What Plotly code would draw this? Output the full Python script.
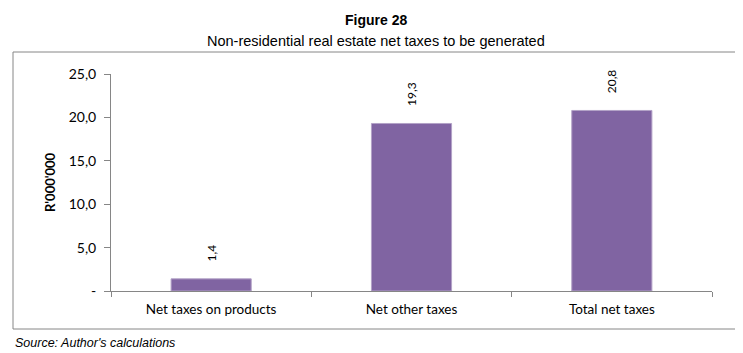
import plotly.graph_objects as go

categories = ["Net taxes on products", "Net other taxes", "Total net taxes"]
values = [1.4, 19.3, 20.8]
value_labels = ["1,4", "19,3", "20,8"]
tick_vals = [0, 5, 10, 15, 20, 25]
tick_text = ["-", "5,0", "10,0", "15,0", "20,0", "25,0"]

BAR = "#8064A2"
AXIS = "#868686"
FONT = "Lato, Calibri, sans-serif"
TFONT = "Liberation Sans, Arial, sans-serif"

# page body has an 8px margin; figure is laid out in page coordinates minus 8
OFF = 8
W, H = 735, 345
L, T = 111 - OFF, 74 - OFF
R = W - (712 - OFF)
B = H - (291 - OFF)

fig = go.Figure()
fig.add_trace(go.Bar(
    x=categories, y=values,
    marker=dict(color=BAR, line=dict(color="#B3A2C7", width=1)),
    width=0.4,
    hoverinfo="skip",
))

for c, v, t in zip(categories, values, value_labels):
    fig.add_annotation(x=c, y=v, text=t, textangle=-90, showarrow=False,
                       xref="x", yref="y", yanchor="bottom", yshift=15,
                       font=dict(family=FONT, size=12, color="#000000"))

fig.update_layout(
    width=W, height=H,
    margin=dict(l=L, r=R, t=T, b=B, autoexpand=False),
    paper_bgcolor="white", plot_bgcolor="white",
    showlegend=False,
    font=dict(family=FONT, color="#000000"),
    bargap=0.6,
)

fig.update_xaxes(
    automargin=False,
    showline=True, linecolor=AXIS, linewidth=1,
    ticks="outside", tickson="boundaries", ticklen=5, tickcolor=AXIS,
    tickfont=dict(family=FONT, size=13.5), ticklabelstandoff=6,
    showgrid=False, zeroline=False,
)
fig.update_yaxes(
    automargin=False,
    range=[0, 25], tickvals=tick_vals, ticktext=tick_text,
    showline=True, linecolor=AXIS, linewidth=1,
    ticks="outside", ticklen=6, tickcolor=AXIS,
    tickfont=dict(family=FONT, size=14), ticklabelstandoff=5,
    showgrid=False, zeroline=False,
)

pw, ph = W - L - R, H - T - B
def px(x):
    return (x - OFF - L) / pw
def py(y):
    return (H - B - (y - OFF)) / ph

fig.add_shape(type="rect", xref="paper", yref="paper",
              x0=px(13), x1=px(736), y0=py(329), y1=py(52),
              line=dict(color=AXIS, width=1), fillcolor="rgba(0,0,0,0)", layer="below")

fig.add_annotation(xref="paper", yref="paper", x=px(50), y=py(182), text="<b>R'000'000</b>",
                   showarrow=False, textangle=-90, xanchor="center", yanchor="middle",
                   font=dict(family=FONT, size=13, color="#000000"))
fig.add_annotation(xref="paper", yref="paper", x=px(376), y=py(20), text="<b>Figure 28</b>",
                   showarrow=False, xanchor="center", yanchor="middle",
                   font=dict(family=TFONT, size=14, color="#000000"))
fig.add_annotation(xref="paper", yref="paper", x=px(376), y=py(41),
                   text="Non-residential real estate net taxes to be generated",
                   showarrow=False, xanchor="center", yanchor="middle",
                   font=dict(family=TFONT, size=14.5, color="#000000"))
fig.add_annotation(xref="paper", yref="paper", x=px(13), y=py(343),
                   text="<i>Source: Author's calculations</i>",
                   showarrow=False, xanchor="left", yanchor="middle",
                   font=dict(family=TFONT, size=12.5, color="#000000"))

fig.write_html("out.html")
